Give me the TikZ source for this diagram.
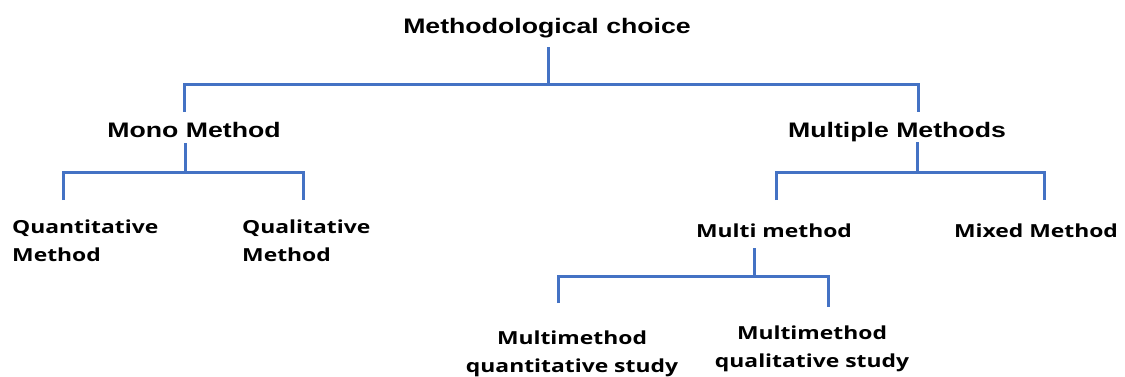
\documentclass[tikz,border=0pt]{standalone}
\usepackage{fontspec}
\newfontfamily\headfont[FakeStretch=1.27]{Liberation Sans}
\newfontfamily\leaffont[FakeStretch=1.27]{Open Sans}
\definecolor{linkblue}{HTML}{4472C4}
\begin{document}
\begin{tikzpicture}[x=1pt,y=-1pt,
  head/.style={font=\headfont\bfseries\fontsize{21}{25}\selectfont, inner sep=0pt, anchor=base},
  leaf/.style={font=\leaffont\bfseries\fontsize{18}{28}\selectfont, inner sep=0pt},
  link/.style={draw=linkblue, line width=3pt, line join=miter}]
\useasboundingbox (0,0) rectangle (1125,376);

% labels (multi-line labels are placed by the baseline of their last line)
\node[head] (root)     at (547,33)  {Methodological choice};
\node[head] (mono)     at (194,137) {Mono Method};
\node[head] (multiple) at (897,137) {Multiple Methods};

\node[leaf, anchor=base west, align=left] (quant) at (12,261)  {Quantitative\\Method};
\node[leaf, anchor=base west, align=left] (qual)  at (242,261) {Qualitative\\Method};
\node[leaf, anchor=base] (multi) at (774,237)  {Multi method};
\node[leaf, anchor=base] (mixed) at (1036,237) {Mixed Method};
\node[leaf, anchor=base, align=center] (mmquant) at (572,372) {Multimethod\\quantitative study};
\node[leaf, anchor=base, align=center] (mmqual)  at (812,367) {Multimethod\\qualitative study};

% joints and line ends
\coordinate (rootS)  at (548,47);
\coordinate (rootJ)  at (548,84);
\coordinate (monoN)  at (184,112);
\coordinate (multN)  at (918,112);

\coordinate (monoS)  at (185,143);
\coordinate (monoJ)  at (185,172);
\coordinate (quantN) at (63,200);
\coordinate (qualN)  at (303,200);

\coordinate (multS)  at (917,142);
\coordinate (multJ)  at (917,172);
\coordinate (multiN) at (776,200);
\coordinate (mixedN) at (1044,200);

\coordinate (multiS) at (754,248);
\coordinate (multiJ) at (754,276);
\coordinate (mmquantN) at (558,303);
\coordinate (mmqualN)  at (828,307);

% connectors
\draw[link] (rootS) -- (rootJ);
\draw[link] (monoN) |- (rootJ) -| (multN);

\draw[link] (monoS) -- (monoJ);
\draw[link] (quantN) |- (monoJ) -| (qualN);

\draw[link] (multS) -- (multJ);
\draw[link] (multiN) |- (multJ) -| (mixedN);

\draw[link] (multiS) -- (multiJ);
\draw[link] (mmquantN) |- (multiJ) -| (mmqualN);
\end{tikzpicture}
\end{document}
